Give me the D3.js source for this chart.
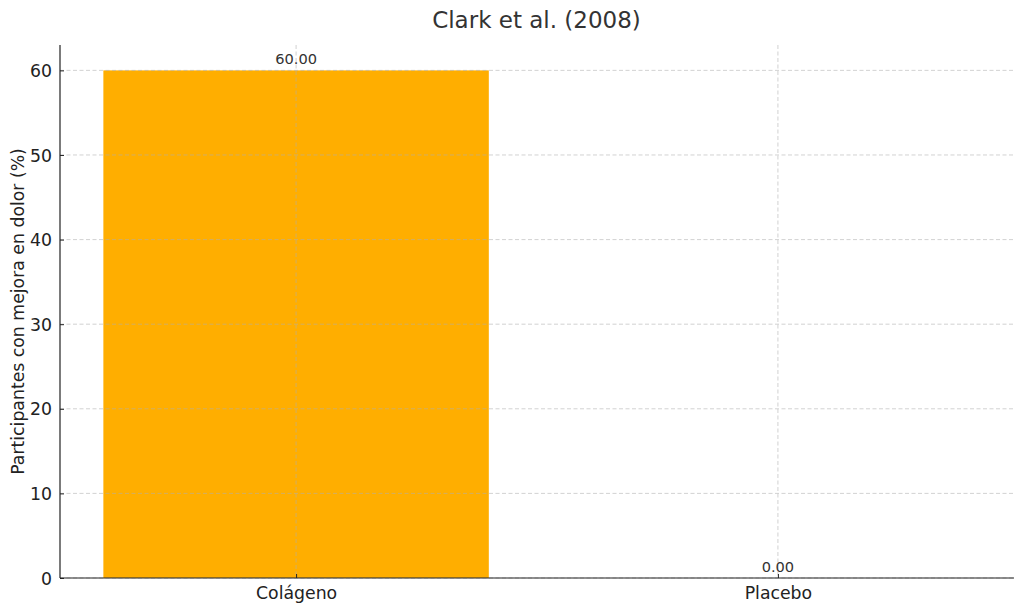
<!DOCTYPE html>
<html><head><meta charset="utf-8">
<script src="https://cdn.jsdelivr.net/npm/d3@7"></script>
<style>body{margin:0;background:#fff}svg{display:block;font-family:"DejaVu Sans",sans-serif}</style>
</head><body><svg id="c" width="1024" height="611"></svg>
<script>
const categories = ["Colágeno", "Placebo"];
const values = [60, 0];
const yTicks = [0, 10, 20, 30, 40, 50, 60];
const title = "Clark et al. (2008)";
const yLabel = "Participantes con mejora en dolor (%)";

const svg = d3.select("#c");
const m = {l: 60, r: 1014, t: 45, b: 578};
const x = d3.scaleLinear().domain([-0.49, 1.49]).range([m.l, m.r]);
const y = d3.scaleLinear().domain([0, 63]).range([m.b, m.t]);
const bw = x(0.8) - x(0);

// bars
svg.selectAll("rect.bar").data(values).enter().append("rect")
  .attr("x", (d, i) => x(i - 0.4)).attr("width", bw)
  .attr("y", d => y(d)).attr("height", d => y(0) - y(d))
  .attr("fill", "#FFAE00");

// grid
const g = svg.append("g").attr("stroke", "#b0b0b0").attr("stroke-width", 0.8).attr("stroke-dasharray", "4,2.5").attr("opacity", 0.7);
yTicks.forEach(t => g.append("line").attr("x1", m.l).attr("x2", m.r).attr("y1", y(t)).attr("y2", y(t)));
categories.forEach((c, i) => g.append("line").attr("x1", x(i)).attr("x2", x(i)).attr("y1", m.t).attr("y2", m.b));

// axes
const ax = svg.append("g").attr("transform", `translate(0,${m.b})`)
  .call(d3.axisBottom(x).tickValues(categories.map((c, i) => i)).tickFormat(i => categories[i]).tickSize(-4).tickPadding(9));
const ay = svg.append("g").attr("transform", `translate(${m.l},0)`)
  .call(d3.axisLeft(y).tickValues(yTicks).tickSize(-4).tickPadding(8));
[ax, ay].forEach(a => {
  a.select(".domain").remove();
  a.selectAll("text").attr("font-size", 17.3).attr("fill", "#222").attr("font-family", "DejaVu Sans");
  a.selectAll("line").attr("stroke", "#222");
});
ay.selectAll("text").attr("dy", "0.35em");
ax.selectAll("text").attr("dy", "0.71em");
svg.append("line").attr("x1", m.l).attr("x2", m.l).attr("y1", m.t).attr("y2", m.b).attr("stroke", "#222").attr("stroke-width", 1.2);
svg.append("line").attr("x1", m.l).attr("x2", m.r).attr("y1", m.b).attr("y2", m.b).attr("stroke", "#222").attr("stroke-width", 1.2);

// value labels
svg.selectAll("text.val").data(values).enter().append("text")
  .attr("x", (d, i) => x(i)).attr("y", d => y(d) - 6)
  .attr("text-anchor", "middle").attr("font-size", 14.6).attr("fill", "#333")
  .text(d => d.toFixed(2));

// title
svg.append("text").attr("x", (m.l + m.r) / 2 - 0.5).attr("y", 28).attr("text-anchor", "middle")
  .attr("font-size", 23).attr("fill", "#333").text(title);
// y label
svg.append("text").attr("transform", `translate(24,${(m.t + m.b) / 2}) rotate(-90)`)
  .attr("text-anchor", "middle").attr("font-size", 17.3).attr("fill", "#222").text(yLabel);
</script></body></html>
